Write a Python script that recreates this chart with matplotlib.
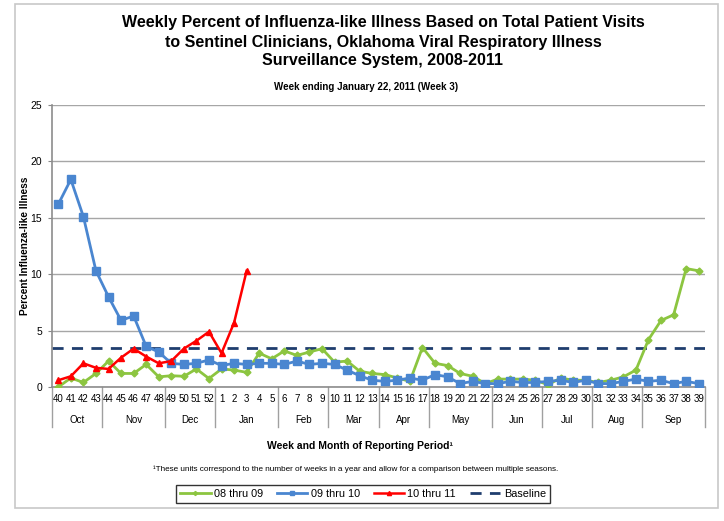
import numpy as np
import matplotlib
matplotlib.use('Agg')
import matplotlib.pyplot as plt
from matplotlib.patches import Rectangle
from matplotlib.transforms import blended_transform_factory

plt.rcParams['font.family'] = ['Liberation Sans', 'DejaVu Sans']

weeks = [40, 41, 42, 43, 44, 45, 46, 47, 48, 49, 50, 51, 52,
         1, 2, 3, 4, 5, 6, 7, 8, 9, 10, 11, 12, 13, 14, 15, 16, 17,
         18, 19, 20, 21, 22, 23, 24, 25, 26, 27, 28, 29, 30,
         31, 32, 33, 34, 35, 36, 37, 38, 39]
months = ['Oct', 'Nov', 'Dec', 'Jan', 'Feb', 'Mar', 'Apr', 'May', 'Jun', 'Jul', 'Aug', 'Sep']
weeks_per_month = [4, 5, 4, 5, 4, 4, 4, 5, 4, 4, 4, 5]

ili_0809 = [0.0, 0.8, 0.4, 1.2, 2.3, 1.2, 1.2, 2.0, 0.9, 1.0, 0.95, 1.6, 0.75,
            1.6, 1.5, 1.3, 3.0, 2.5, 3.2, 2.8, 3.1, 3.4, 2.2, 2.3, 1.4, 1.2,
            1.1, 0.8, 0.5, 3.5, 2.1, 1.9, 1.2, 0.95, 0.3, 0.7, 0.7, 0.7, 0.6,
            0.2, 0.8, 0.6, 0.6, 0.4, 0.6, 0.9, 1.5, 4.2, 5.9, 6.4, 10.5, 10.3]
ili_0910 = [16.2, 18.4, 15.1, 10.3, 8.0, 5.9, 6.3, 3.6, 3.1, 2.1, 2.0, 2.1, 2.4,
            1.9, 2.1, 2.0, 2.1, 2.1, 2.0, 2.3, 2.0, 2.1, 2.0, 1.5, 1.0, 0.6,
            0.5, 0.6, 0.8, 0.6, 1.1, 0.9, 0.3, 0.5, 0.3, 0.3, 0.5, 0.4, 0.4,
            0.5, 0.6, 0.4, 0.6, 0.3, 0.3, 0.5, 0.7, 0.5, 0.6, 0.3, 0.5, 0.3]
ili_1011 = [0.6, 0.95, 2.1, 1.7, 1.6, 2.6, 3.4, 2.7, 2.1, 2.3, 3.4, 4.1, 4.9,
            3.0, 5.7, 10.3]
baseline = 3.5

W, H = 724, 521
fig = plt.figure(figsize=(W / 100, H / 100), dpi=100)
ax = fig.add_axes([52 / W, 1 - 387 / H, 653 / W, 282 / H])

x = np.arange(len(weeks))
ax.plot(x, ili_0809, '-D', color='#8cc540', lw=2, ms=3.5, label='08 thru 09', zorder=3)
ax.plot(x, ili_0910, '-s', color='#4a86d0', lw=2, ms=6, label='09 thru 10', zorder=3)
ax.plot(x[:len(ili_1011)], ili_1011, '-^', color='#ff0000', lw=1.8, ms=5,
        label='10 thru 11', zorder=4)
ax.axhline(baseline, color='#1f3d6e', lw=2, ls=(0, (4, 3)), label='Baseline', zorder=2)

ax.set_xlim(-0.5, len(weeks) - 0.5)
ax.set_ylim(0, 25)
ax.set_yticks([0, 5, 10, 15, 20, 25])
ax.yaxis.grid(True, color='#a6a6a6', lw=1)
ax.set_axisbelow(True)
ax.tick_params(axis='y', labelsize=7.5, length=3, color='#888888', pad=4)
ax.set_xticks(x)
ax.set_xticklabels([str(w) for w in weeks], fontsize=7)
ax.tick_params(axis='x', length=0, pad=5)
for s in ['top', 'right']:
    ax.spines[s].set_visible(False)
for s in ['left', 'bottom']:
    ax.spines[s].set_color('#8c8c8c')
    ax.spines[s].set_linewidth(1.2)

ax.set_ylabel('Percent Influenza-like Illness', fontsize=7.3, fontweight='bold')
ax.yaxis.set_label_coords(-22 / 653, 0.5)

# month separators and month labels below the week numbers
trans = blended_transform_factory(ax.transData, ax.transAxes)
edges = np.concatenate([[0], np.cumsum(weeks_per_month)]) - 0.5
for e in edges:
    ax.plot([e, e], [0, -40 / 282], color='#a0a0a0', lw=1, transform=trans, clip_on=False)
for i, m in enumerate(months):
    ax.text((edges[i] + edges[i + 1]) / 2, -33 / 282, m, fontsize=7,
            ha='center', va='center', transform=trans)

fig.text(383 / W, 1 - 23 / H, 'Weekly Percent of Influenza-like Illness Based on Total Patient Visits',
         ha='center', va='center', fontsize=11.5, fontweight='bold')
fig.text(383 / W, 1 - 42 / H, 'to Sentinel Clinicians, Oklahoma Viral Respiratory Illness',
         ha='center', va='center', fontsize=11.5, fontweight='bold')
fig.text(383 / W, 1 - 61 / H, 'Surveillance System, 2008-2011',
         ha='center', va='center', fontsize=11.5, fontweight='bold')
fig.text(366 / W, 1 - 87 / H, 'Week ending January 22, 2011 (Week 3)',
         ha='center', va='center', fontsize=7, fontweight='bold')

fig.text(360 / W, 1 - 446 / H, 'Week and Month of Reporting Period\u00b9',
         ha='center', va='center', fontsize=7.5, fontweight='bold')
fig.text(356 / W, 1 - 469 / H,
         '\u00b9These units correspond to the number of weeks in a year and allow for a comparison between multiple seasons.',
         ha='center', va='center', fontsize=5.9)

leg = fig.legend(loc='center', bbox_to_anchor=(363 / W, 1 - 494 / H), ncol=4,
                 fontsize=7.8, frameon=True, fancybox=False, edgecolor='black',
                 handlelength=2.8, handletextpad=0.3, columnspacing=1.3, borderpad=0.35,
                 markerscale=0.6)
leg.get_frame().set_linewidth(1)

fig.patches.append(Rectangle((15 / W, 1 - 508 / H), 703 / W, 504 / H, transform=fig.transFigure,
                             fill=False, edgecolor='#c8c8c8', lw=1.2))

fig.savefig('out.png', dpi=100)
